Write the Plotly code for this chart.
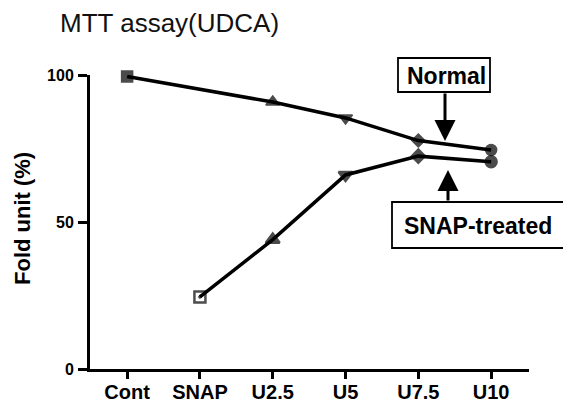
import plotly.graph_objects as go

# ---- data ----
categories = ["Cont", "SNAP", "U2.5", "U5", "U7.5", "U10"]
normal_x = ["Cont", "U2.5", "U5", "U7.5", "U10"]
normal_y = [99.5, 90.8, 85.4, 77.7, 74.5]
normal_symbols = ["square", "triangle-up", "triangle-down", "diamond", "circle"]
snap_x = ["SNAP", "U2.5", "U5", "U7.5", "U10"]
snap_y = [24.5, 44.0, 66.0, 72.4, 70.5]
snap_symbols = ["square-open-dot", "triangle-up", "triangle-down", "diamond", "circle"]
y_ticks = [0, 50, 100]
title_text = "MTT assay(UDCA)"
y_title = "Fold unit (%)"
label_normal = "Normal"
label_snap = "SNAP-treated"

W, H = 571, 405
OFF = 8  # page body margin offset
# plot area in screen pixels: x 90..529, y 75..369
L = 90 - OFF
T = 75 - OFF
PW, PH = 439, 294
R = W - L - PW
B = H - T - PH
FONT = "Liberation Sans, Arial, sans-serif"


def px(xs):
    return (xs - OFF - L) / PW


def py(ys):
    return (T + PH - (ys - OFF)) / PH


marker_sizes = [11, 12, 12, 10, 11]

fig = go.Figure()
fig.add_trace(go.Scatter(
    x=normal_x, y=normal_y, mode="lines+markers",
    line=dict(color="black", width=3.5),
    marker=dict(symbol=normal_symbols, size=marker_sizes, color="black",
                line=dict(width=1.5, color="black")),
    cliponaxis=False, showlegend=False))
fig.add_trace(go.Scatter(
    x=snap_x, y=snap_y, mode="lines+markers",
    line=dict(color="black", width=3.5),
    marker=dict(symbol=snap_symbols, size=marker_sizes, color="black",
                line=dict(width=2.5, color="black")),
    cliponaxis=False, showlegend=False))

fig.update_layout(
    width=W, height=H,
    margin=dict(l=L, r=R, t=T, b=B, pad=0, autoexpand=False),
    paper_bgcolor="white", plot_bgcolor="white",
    font=dict(family=FONT, color="black"),
    xaxis=dict(
        type="category", categoryorder="array", categoryarray=categories,
        tickvals=categories, ticktext=categories, automargin=False,
        range=[-0.51, 5.52], showgrid=False, zeroline=False,
        showline=True, linecolor="black", linewidth=3,
        ticks="outside", ticklen=7, tickwidth=3, tickcolor="black",
        ticklabelstandoff=-4,
        tickfont=dict(family=FONT, size=20, color="black", weight="bold"),
    ),
    yaxis=dict(
        range=[0, 100], tickvals=y_ticks, showgrid=False, zeroline=False,
        showline=True, linecolor="black", linewidth=3, automargin=False,
        ticks="outside", ticklen=9, tickwidth=2.5, tickcolor="black",
        ticklabelstandoff=1,
        tickfont=dict(family=FONT, size=16, color="black", weight="bold"),
    ),
)

annotations = [
    dict(text=title_text, xref="paper", yref="paper", x=px(58), y=py(23),
         xanchor="left", yanchor="middle", showarrow=False,
         font=dict(family=FONT, size=26, color="#111")),
    dict(text=y_title, xref="paper", yref="paper", x=px(22), y=py(219),
         xanchor="center", yanchor="middle", textangle=-90, showarrow=False,
         borderpad=0,
         font=dict(family=FONT, size=22, color="black", weight="bold")),
    dict(text=label_normal, xref="paper", yref="paper", x=px(446), y=py(76),
         xanchor="center", yanchor="middle", showarrow=False,
         font=dict(family=FONT, size=23, color="black", weight="bold")),
    dict(text=label_snap, xref="paper", yref="paper", x=px(478), y=py(226),
         xanchor="center", yanchor="middle", showarrow=False,
         font=dict(family=FONT, size=23, color="black", weight="bold")),
    dict(text="", xref="paper", yref="paper", x=px(445), y=py(141),
         ax=0, ay=-49, showarrow=True, arrowhead=2, arrowsize=1.4,
         arrowwidth=3, arrowcolor="black"),
    dict(text="", xref="paper", yref="paper", x=px(448), y=py(170),
         ax=0, ay=32, showarrow=True, arrowhead=2, arrowsize=1.4,
         arrowwidth=3, arrowcolor="black"),
]
fig.update_layout(annotations=annotations)

shapes = [
    dict(type="rect", xref="paper", yref="paper",
         x0=px(398), x1=px(490), y0=py(92), y1=py(58),
         line=dict(color="black", width=1.8)),
    dict(type="rect", xref="paper", yref="paper",
         x0=px(392), x1=px(569), y0=py(248), y1=py(202),
         line=dict(color="black", width=1.8)),
]
fig.update_layout(shapes=shapes)

fig.write_html("out.html")
